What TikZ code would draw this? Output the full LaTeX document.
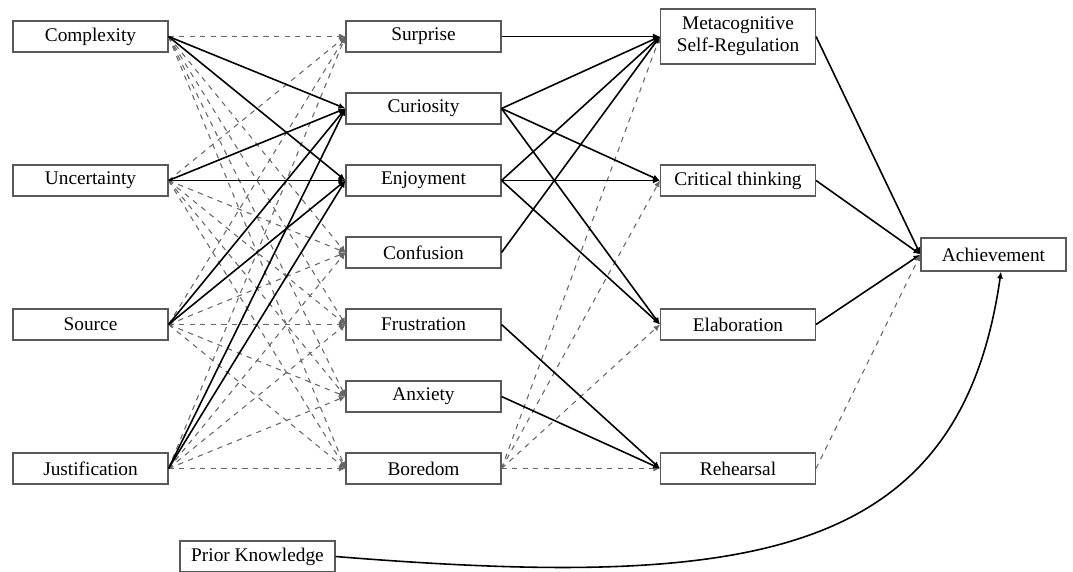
\documentclass[tikz,border=0pt]{standalone}
\usepackage{fontspec}
\setmainfont{Liberation Serif}
\usepackage{tikz}
\usetikzlibrary{shapes,arrows,positioning,arrows.meta}

\begin{document}
\begin{tikzpicture}[
	node distance = 1.44cm,
	boxnode/.style={rectangle, draw=black!65, line width=0.6pt, minimum width=3.1cm, minimum height=0.62cm, align=center, inner sep=1pt, font=\fontsize{11}{12.5}\selectfont},
	solidedge/.style={line width=0.9pt, -{Latex[length=1.4mm,width=1.2mm]}},
	dashedge/.style={dashed, black!60, line width=0.6pt, -{Latex[length=1.3mm,width=1.2mm]}},
	]
	\useasboundingbox (0,0) rectangle (21.46,-11.44);
	%Nodes
	\node[boxnode]     (cx)   at (1.81,-0.73)   {Complexity};
	\node[boxnode]     (un)   [below of = cx, node distance = 2.88cm] {Uncertainty};
	\node[boxnode]     (so)   [below of = un, node distance = 2.88cm] {Source};
	\node[boxnode]     (ju)   [below of = so, node distance = 2.88cm] {Justification};
	
	\node[boxnode]     (sur)  [right of = cx, node distance = 6.66cm] {Surprise};
	\node[boxnode]     (cur)  [below of = sur] {Curiosity};
	\node[boxnode]     (enj)  [below of = cur] {Enjoyment};
	\node[boxnode]     (con)  [below of = enj] {Confusion};
	\node[boxnode]     (fru)  [below of = con] {Frustration};
	\node[boxnode]     (anx)  [below of = fru] {Anxiety};
	\node[boxnode]     (bor)  [below of = anx] {Boredom};
	
	\node[boxnode, minimum height=1.1cm] (met) [right of = sur, node distance = 6.29cm] {Metacognitive\\Self-Regulation};
	\node[boxnode]     (cri)  [right of = enj, node distance = 6.29cm] {Critical thinking};
	\node[boxnode]     (ela)  [right of = fru, node distance = 6.29cm] {Elaboration};
	\node[boxnode]     (reh)  [right of = bor, node distance = 6.29cm] {Rehearsal};
	
	\node[boxnode, minimum width=2.9cm, minimum height=0.66cm] (ach) at (19.87,-5.09) {Achievement};
	\node[boxnode]     (pk)   at (5.15,-11.13) {Prior Knowledge};
	
	%Lines
	\draw[dashedge] (cx.east) -- (sur.west);
	\draw[dashedge] (cx.east) -- (con.west);
	\draw[dashedge] (cx.east) -- (fru.west);
	\draw[dashedge] (cx.east) -- (anx.west);
	\draw[dashedge] (cx.east) -- (bor.west);
	\draw[dashedge] (un.east) -- (sur.west);
	\draw[dashedge] (un.east) -- (con.west);
	\draw[dashedge] (un.east) -- (fru.west);
	\draw[dashedge] (un.east) -- (anx.west);
	\draw[dashedge] (un.east) -- (bor.west);
	\draw[dashedge] (so.east) -- (sur.west);
	\draw[dashedge] (so.east) -- (con.west);
	\draw[dashedge] (so.east) -- (fru.west);
	\draw[dashedge] (so.east) -- (anx.west);
	\draw[dashedge] (so.east) -- (bor.west);
	\draw[dashedge] (ju.east) -- (sur.west);
	\draw[dashedge] (ju.east) -- (con.west);
	\draw[dashedge] (ju.east) -- (fru.west);
	\draw[dashedge] (ju.east) -- (anx.west);
	\draw[dashedge] (ju.east) -- (bor.west);
	
	\draw[solidedge] (cx.east) -- (cur.west);
	\draw[solidedge] (cx.east) -- (enj.west);
	\draw[solidedge] (un.east) -- (cur.west);
	\draw[solidedge] (un.east) -- (enj.west);
	\draw[solidedge] (so.east) -- (cur.west);
	\draw[solidedge] (so.east) -- (enj.west);
	\draw[solidedge] (ju.east) -- (cur.west);
	\draw[solidedge] (ju.east) -- (enj.west);
	
	\draw[dashedge] (bor.east) -- (met.west);
	\draw[dashedge] (bor.east) -- (cri.west);
	\draw[dashedge] (bor.east) -- (ela.west);
	\draw[dashedge] (bor.east) -- (reh.west);
	
	\draw[solidedge] (sur.east) -- (met.west);
	\draw[solidedge] (cur.east) -- (met.west);
	\draw[solidedge] (cur.east) -- (cri.west);
	\draw[solidedge] (cur.east) -- (ela.west);
	\draw[solidedge] (enj.east) -- (met.west);
	\draw[solidedge] (enj.east) -- (cri.west);
	\draw[solidedge] (enj.east) -- (ela.west);
	\draw[solidedge] (con.east) -- (met.west);
	\draw[solidedge] (fru.east) -- (reh.west);
	\draw[solidedge] (anx.east) -- (reh.west);
	
	\draw[solidedge] (met.east) -- (ach.west);
	\draw[solidedge] (cri.east) -- (ach.west);
	\draw[solidedge] (ela.east) -- (ach.west);
	\draw[dashedge] (reh.east) -- (ach.west);
	
	\draw[solidedge] (pk.east) .. controls (15.0,-11.8) and (19.2,-11.2) .. ([xshift=1.5mm]ach.south);
\end{tikzpicture}
\end{document}
